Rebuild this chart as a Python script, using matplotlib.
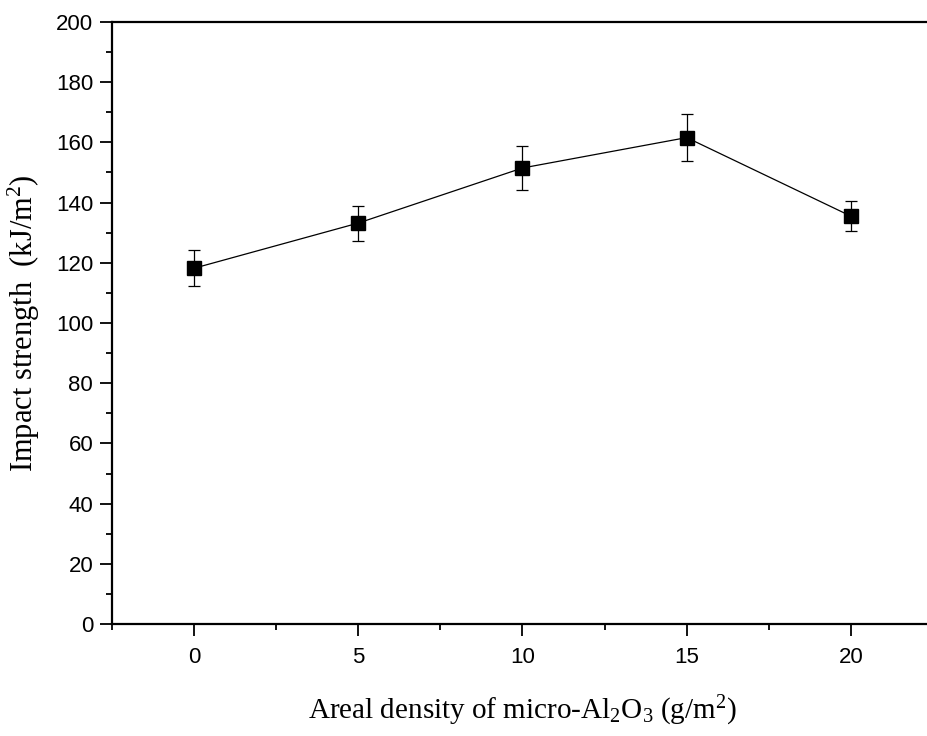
import matplotlib
matplotlib.use("Agg")
import matplotlib.pyplot as plt
from matplotlib.ticker import MultipleLocator

areal_density = [0, 5, 10, 15, 20]
impact_strength = [118.2, 133.2, 151.5, 161.6, 135.5]
error = [5.9, 5.8, 7.3, 7.9, 5.0]
xtick_labels = ["0", "5", "10", "15", "20"]

plt.rcParams["mathtext.fontset"] = "custom"
plt.rcParams["mathtext.rm"] = "Liberation Serif"
plt.rcParams["mathtext.it"] = "Liberation Serif:italic"

fig = plt.figure(figsize=(9.28, 7.36), dpi=100)
ax = fig.add_axes([112/928, 1-624/736, (933-112)/928, (624-22)/736])

ax.errorbar(areal_density, impact_strength, yerr=error, color="black",
            marker="s", markersize=10, linewidth=0.9, elinewidth=0.9,
            capsize=4.3, capthick=0.9, markerfacecolor="black",
            markeredgecolor="black")

ax.set_xlim(-2.5, 22.5)
ax.set_ylim(0, 200)
ax.set_xticks(areal_density)
ax.set_xticklabels(xtick_labels)
ax.xaxis.set_minor_locator(MultipleLocator(2.5))
ax.yaxis.set_major_locator(MultipleLocator(20))
ax.yaxis.set_minor_locator(MultipleLocator(10))

tickfont = ["Liberation Sans Narrow", "Liberation Sans", "DejaVu Sans"]
for lab in ax.get_xticklabels() + ax.get_yticklabels():
    lab.set_family(tickfont)
    lab.set_fontsize(16)

ax.tick_params(which="major", direction="out", length=8.5, width=1.3, pad=5)
ax.tick_params(which="minor", direction="out", length=4.5, width=1.3)
ax.tick_params(axis="x", which="major", pad=8)
for s in ax.spines.values():
    s.set_linewidth(1.6)

serif = ["Liberation Serif", "DejaVu Serif"]
ax.set_xlabel(r"Areal density of micro-Al$_2$O$_3$ (g/m$^2$)",
              family=serif, fontsize=21, labelpad=19)
ax.set_ylabel(r"Impact strength  (kJ/m$^2$)", family=serif, fontsize=22,
              labelpad=10)

fig.savefig("out.png", dpi=100)
